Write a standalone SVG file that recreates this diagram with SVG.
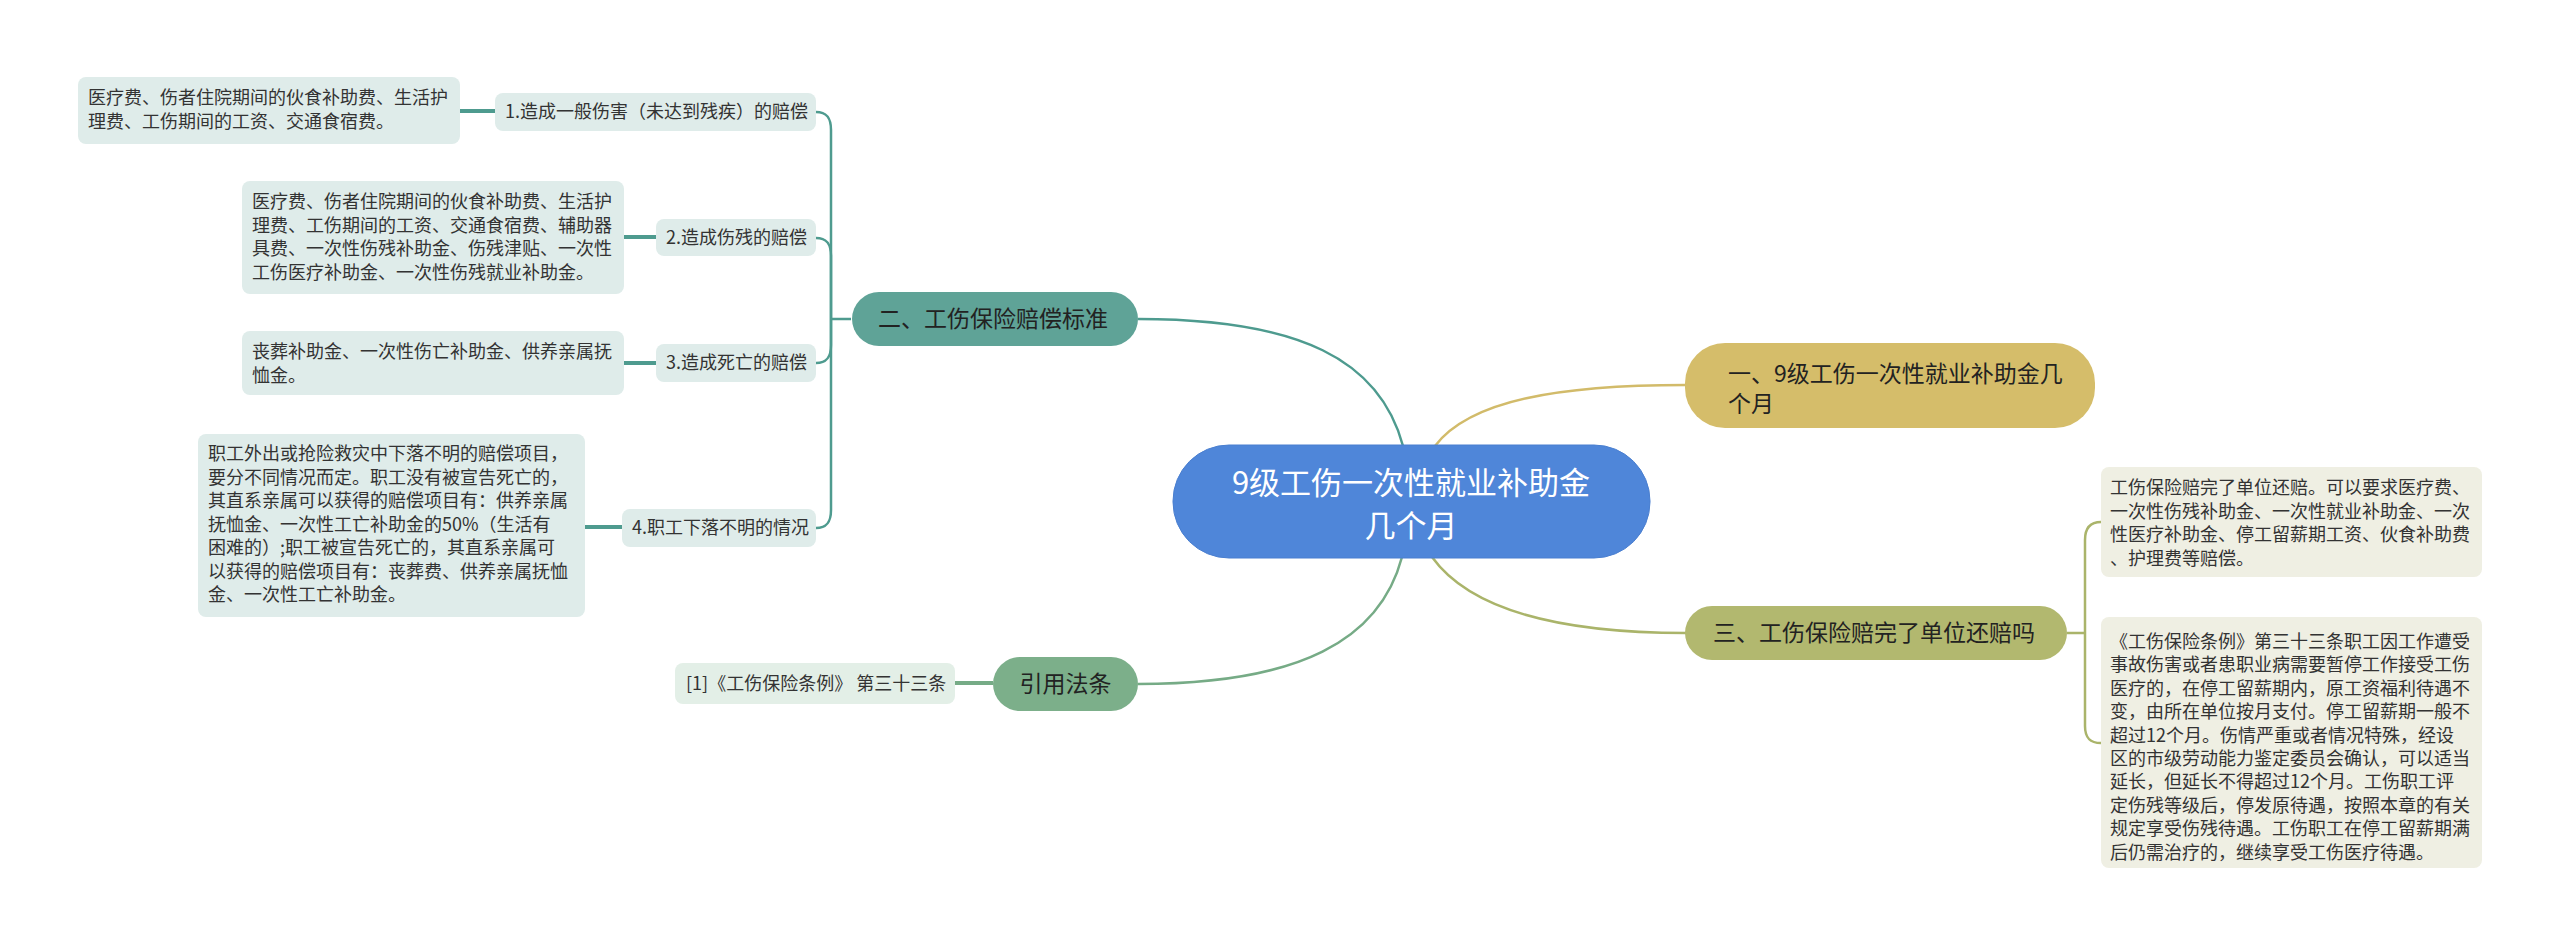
<svg xmlns="http://www.w3.org/2000/svg" width="2560" height="947" viewBox="0 0 2560 947">
<style>
text{font-family:"Noto Sans CJK SC","Noto Sans",sans-serif;}
.sub{font-size:18px;fill:#333;}
.main{font-size:23px;fill:#222;}
.root{font-size:31px;fill:#fff;text-anchor:middle;}
.tbox{fill:#dfecea;}
.obox{fill:#efefe3;}
.teal{fill:none;stroke:#4e9b8f;stroke-width:2.5;}
.tealT{fill:none;stroke:#4e9b8f;stroke-width:4;}
</style>
<rect width="2560" height="947" fill="#fff"/>
<g id="connectors">
  <path class="teal" d="M1403 446 C1380 360 1300 319 1138 319"/>
  <path d="M1435 446 C1470 400 1560 385 1686 385" fill="none" stroke="#d2bb6a" stroke-width="2.5"/>
  <path d="M1432 557 C1470 610 1560 633 1686 633" fill="none" stroke="#aab46a" stroke-width="2.5"/>
  <path d="M1402 557 C1380 640 1300 684 1138 684" fill="none" stroke="#76ab86" stroke-width="2.5"/>
  <path class="teal" d="M851 319 L831 319"/>
  <path class="teal" d="M816 112 C827 112 831 118 831 130 L831 319"/>
  <path class="teal" d="M816 238 C827 238 831 244 831 256 L831 319"/>
  <path class="teal" d="M816 363 C827 363 831 357 831 345 L831 319"/>
  <path class="teal" d="M816 528 C827 528 831 522 831 510 L831 319"/>
  <path class="tealT" d="M460 111 L495 111"/>
  <path class="tealT" d="M624 237 L656 237"/>
  <path class="tealT" d="M624 363 L656 363"/>
  <path class="tealT" d="M585 527 L622 527"/>
  <path d="M955 683 L993 683" fill="none" stroke="#76ab86" stroke-width="4"/>
  <path d="M2067 633 L2085 633 M2101 522 C2090 522 2085 528 2085 540 L2085 726 C2085 738 2090 743 2101 743" fill="none" stroke="#aab46a" stroke-width="2.5"/>
</g>
<g id="root">
  <rect x="1173" y="445" width="477" height="113" rx="56" fill="#4f86d9" stroke="#4a7fd0" stroke-width="1"/>
  <text class="root" x="1411" y="494">9级工伤一次性就业补助金</text>
  <text class="root" x="1411" y="537">几个月</text>
</g>
<g id="n-yi">
  <rect x="1685" y="343" width="410" height="85" rx="40" fill="#d5bd6a"/>
  <text class="main" x="1728" y="382">一、9级工伤一次性就业补助金几</text>
  <text class="main" x="1728" y="412">个月</text>
</g>
<g id="n-san">
  <rect x="1685" y="606" width="382" height="54" rx="27" fill="#b2b86f"/>
  <text class="main" x="1713" y="641">三、工伤保险赔完了单位还赔吗</text>
</g>
<g id="n-san-1">
  <rect class="obox" x="2101" y="467" width="381" height="110" rx="8"/>
  <text class="sub" x="2110" y="494">工伤保险赔完了单位还赔。可以要求医疗费、</text>
  <text class="sub" x="2110" y="517.5">一次性伤残补助金、一次性就业补助金、一次</text>
  <text class="sub" x="2110" y="541">性医疗补助金、停工留薪期工资、伙食补助费</text>
  <text class="sub" x="2110" y="564.5">、护理费等赔偿。</text>
</g>
<g id="n-san-2">
  <rect class="obox" x="2101" y="617" width="381" height="251" rx="8"/>
  <text class="sub" x="2110" y="648">《工伤保险条例》第三十三条职工因工作遭受</text>
  <text class="sub" x="2110" y="671.4">事故伤害或者患职业病需要暂停工作接受工伤</text>
  <text class="sub" x="2110" y="694.8">医疗的，在停工留薪期内，原工资福利待遇不</text>
  <text class="sub" x="2110" y="718.2">变，由所在单位按月支付。停工留薪期一般不</text>
  <text class="sub" x="2110" y="741.6">超过12个月。伤情严重或者情况特殊，经设</text>
  <text class="sub" x="2110" y="765">区的市级劳动能力鉴定委员会确认，可以适当</text>
  <text class="sub" x="2110" y="788.4">延长，但延长不得超过12个月。工伤职工评</text>
  <text class="sub" x="2110" y="811.8">定伤残等级后，停发原待遇，按照本章的有关</text>
  <text class="sub" x="2110" y="835.2">规定享受伤残待遇。工伤职工在停工留薪期满</text>
  <text class="sub" x="2110" y="858.6">后仍需治疗的，继续享受工伤医疗待遇。</text>
</g>
<g id="n-er">
  <rect x="852" y="292" width="286" height="54" rx="27" fill="#5fa397"/>
  <text class="main" x="878" y="327">二、工伤保险赔偿标准</text>
</g>
<g id="n-er-1">
  <rect class="tbox" x="495" y="93" width="321" height="38" rx="8"/>
  <text class="sub" x="505" y="118">1.造成一般伤害（未达到残疾）的赔偿</text>
</g>
<g id="n-er-1-a">
  <rect class="tbox" x="78" y="77" width="382" height="67" rx="8"/>
  <text class="sub" x="88" y="104">医疗费、伤者住院期间的伙食补助费、生活护</text>
  <text class="sub" x="88" y="127.5">理费、工伤期间的工资、交通食宿费。</text>
</g>
<g id="n-er-2">
  <rect class="tbox" x="656" y="219" width="160" height="37" rx="8"/>
  <text class="sub" x="666" y="244">2.造成伤残的赔偿</text>
</g>
<g id="n-er-2-a">
  <rect class="tbox" x="242" y="181" width="382" height="113" rx="8"/>
  <text class="sub" x="252" y="208">医疗费、伤者住院期间的伙食补助费、生活护</text>
  <text class="sub" x="252" y="231.5">理费、工伤期间的工资、交通食宿费、辅助器</text>
  <text class="sub" x="252" y="255">具费、一次性伤残补助金、伤残津贴、一次性</text>
  <text class="sub" x="252" y="278.5">工伤医疗补助金、一次性伤残就业补助金。</text>
</g>
<g id="n-er-3">
  <rect class="tbox" x="656" y="344" width="160" height="38" rx="8"/>
  <text class="sub" x="666" y="369">3.造成死亡的赔偿</text>
</g>
<g id="n-er-3-a">
  <rect class="tbox" x="242" y="331" width="382" height="64" rx="8"/>
  <text class="sub" x="252" y="358">丧葬补助金、一次性伤亡补助金、供养亲属抚</text>
  <text class="sub" x="252" y="381.5">恤金。</text>
</g>
<g id="n-er-4">
  <rect class="tbox" x="622" y="509" width="194" height="38" rx="8"/>
  <text class="sub" x="632" y="534">4.职工下落不明的情况</text>
</g>
<g id="n-er-4-a">
  <rect class="tbox" x="198" y="434" width="387" height="183" rx="8"/>
  <text class="sub" x="208" y="460">职工外出或抢险救灾中下落不明的赔偿项目，</text>
  <text class="sub" x="208" y="483.5">要分不同情况而定。职工没有被宣告死亡的，</text>
  <text class="sub" x="208" y="507">其直系亲属可以获得的赔偿项目有：供养亲属</text>
  <text class="sub" x="208" y="530.5">抚恤金、一次性工亡补助金的50%（生活有</text>
  <text class="sub" x="208" y="554">困难的）;职工被宣告死亡的，其直系亲属可</text>
  <text class="sub" x="208" y="577.5">以获得的赔偿项目有：丧葬费、供养亲属抚恤</text>
  <text class="sub" x="208" y="601">金、一次性工亡补助金。</text>
</g>
<g id="n-cite">
  <rect x="993" y="657" width="145" height="54" rx="27" fill="#7caf8a"/>
  <text class="main" x="1065.5" y="692" text-anchor="middle">引用法条</text>
</g>
<g id="n-cite-1">
  <rect x="675" y="663" width="280" height="41" rx="8" fill="#e3efe7"/>
  <text class="sub" x="686" y="690">[1]《工伤保险条例》 第三十三条</text>
</g>
</svg>
